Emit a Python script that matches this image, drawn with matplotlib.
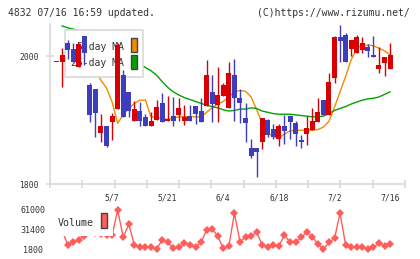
import matplotlib
matplotlib.use('Agg')
import matplotlib.pyplot as plt
import numpy as np
from matplotlib.patches import Rectangle
from matplotlib.transforms import Affine2D

# ---------------- data ----------------
open_ = [1990, 1990, 2021, 2011, 1983, 2031, 1955, 1948, 1879, 1891,
         1897, 1917, 1970, 1944, 1899, 1914, 1905, 1891, 1900, 1926,
         1898, 1906, 1908, 1898, 1906, 1922, 1914, 1922, 1943, 1924,
         1938, 1919, 1970, 1934, 1903, 1856, 1856, 1865, 1900, 1886,
         1871, 1891, 1906, 1896, 1868, 1878, 1884, 1897, 1931, 1908,
         1966, 2029, 2033, 2011, 2005, 2009, 2014, 2002, 1980, 1989,
         1980]
close = [1990, 2002, 2009, 1991, 2019, 2004, 1908, 1911, 1891, 1859,
         1906, 2017, 1905, 1914, 1917, 1898, 1890, 1898, 1921, 1897,
         1901, 1898, 1918, 1905, 1898, 1910, 1897, 1970, 1925, 1939,
         1955, 1973, 1934, 1926, 1895, 1844, 1850, 1903, 1877, 1874,
         1891, 1883, 1897, 1878, 1865, 1887, 1898, 1913, 1908, 1960,
         2029, 2024, 1990, 2025, 2029, 2021, 2008, 1999, 1986, 1998,
         2002]
high = [1990, 2012, 2025, 2021, 2021, 2031, 1958, 1948, 1910, 1891,
        1911, 2021, 1978, 1944, 1929, 1928, 1910, 1912, 1932, 1942,
        1937, 1936, 1935, 1923, 1923, 1922, 1934, 1994, 1970, 1983,
        1958, 1990, 1995, 1948, 1926, 1870, 1856, 1903, 1901, 1894,
        1894, 1908, 1906, 1898, 1877, 1906, 1918, 1934, 1931, 1974,
        2031, 2048, 2036, 2025, 2033, 2029, 2019, 2031, 2014, 1998,
        2021]
low = [1990, 1952, 1995, 1991, 1983, 1986, 1897, 1874, 1865, 1858,
       1869, 1917, 1905, 1905, 1899, 1890, 1890, 1890, 1900, 1897,
       1898, 1890, 1898, 1892, 1898, 1894, 1897, 1922, 1897, 1897,
       1938, 1919, 1898, 1895, 1865, 1840, 1811, 1855, 1873, 1871,
       1860, 1862, 1870, 1859, 1857, 1861, 1884, 1897, 1908, 1908,
       1958, 1991, 1990, 2000, 2005, 2005, 1999, 1999, 1974, 1969,
       1980]
ma5 = [np.nan, np.nan, np.nan, np.nan, 2005, 2005, 1995, 1978, 1962, 1950,
       1928, 1895, 1908, 1918, 1926, 1931, 1931, 1905, 1904, 1902,
       1901, 1903, 1905, 1905, 1905, 1905, 1905, 1912, 1919, 1925,
       1929, 1936, 1944, 1946, 1945, 1936, 1916, 1895, 1880, 1874,
       1872, 1878, 1883, 1884, 1884, 1884, 1884, 1885, 1889, 1898,
       1920, 1944, 1968, 1994, 2012, 2017, 2017, 2016, 2012, 2008,
       2002]
ma25 = [np.nan, 2047, 2044, 2042, 2040, 2037, 2033, 2028, 2023, 2018,
        2012, 2006, 2000, 1995, 1989, 1987, 1982, 1977, 1970, 1960,
        1951, 1944, 1939, 1935, 1932, 1929, 1926, 1923, 1921, 1919,
        1916, 1914, 1915, 1917, 1917, 1919, 1918, 1914, 1912, 1910,
        1909, 1909, 1909, 1908, 1907, 1906, 1905, 1905, 1906, 1910,
        1915, 1918, 1921, 1925, 1928, 1931, 1933, 1934, 1936, 1940,
        1944]
volume = [32000, 30000, 8200, 12200, 15600, 22000, 30000, 26000, 24000, 22500,
          22500, 60000, 19600, 38800, 8200, 4800, 4800, 4800, 1800, 15600,
          12200, 3300, 4800, 10700, 8200, 4800, 12200, 30400, 31800, 21500,
          3300, 6700, 55000, 13100, 19600, 21500, 27000, 8200, 5600, 8200,
          6700, 23000, 12200, 12200, 19600, 27000, 20500, 9600, 1800, 12200,
          18000, 55000, 8200, 5600, 4800, 4800, 1800, 4800, 10700, 6700,
          9600]
date_labels = ['5/7', '5/21', '6/4', '6/18', '7/2', '7/16']
date_index = [10, 20, 30, 40, 50, 60]
price_ticks = [1800, 2000]
vol_ticks = [1800, 31400, 61000]

# ---------------- style ----------------
RED = '#d80000'
BLUE = '#3d3dbd'
ORANGE = '#f28a00'
GREEN = '#00a400'
VOLC = '#ff5c5c'
GRID = '#d9d9d9'
TXT = '#333333'
MONO = 'DejaVu Sans Mono'

W, H = 420, 259
fig = plt.figure(figsize=(W / 100, H / 100), dpi=100)
px = Affine2D().scale(1 / W, -1 / H).translate(0, 1) + fig.transFigure


def rect(l, t, r, b):
    return [l / W, 1 - b / H, (r - l) / W, (b - t) / H]


ax = fig.add_axes(rect(50, 24, 405, 184))
vax = fig.add_axes(rect(50, 205, 405, 252))

n = len(open_)
x = np.arange(n)
xlim = (-1.17, 62.68)

# ---------------- candles ----------------
o = np.array(open_, float)
c = np.array(close, float)
colors = [RED if cc >= oo else BLUE for oo, cc in zip(o, c)]
ax.vlines(x, low, high, colors=colors, linewidth=1.0, zorder=3)
bottoms = np.minimum(o, c)
heights = np.maximum(np.abs(c - o), 1.6)
ax.bar(x, heights, bottom=bottoms, width=0.9, color=colors, linewidth=0, zorder=3.1)

ax.plot(x, ma5, color=ORANGE, lw=1.0, zorder=2)
ax.plot(x, ma25, color=GREEN, lw=1.0, zorder=2)

ax.set_xlim(*xlim)
ax.set_ylim(1800, 2050)
for s in ['top', 'right']:
    ax.spines[s].set_visible(False)
for s in ['left', 'bottom']:
    ax.spines[s].set_color(GRID)
    ax.spines[s].set_linewidth(1.2)
ax.set_yticks(price_ticks)
ax.set_yticklabels([str(v) for v in price_ticks], fontsize=5.8, family=MONO, color=TXT)
ax.tick_params(axis='y', direction='inout', length=5.8, width=1.2, color=GRID, pad=5)
ax.set_xticks(date_index)
ax.set_xticklabels(date_labels, fontsize=5.8, family=MONO, color=TXT)
ax.tick_params(axis='x', which='major', length=0, pad=7)
minor = [xlim[0] + (xlim[1] - xlim[0]) * i / 11 for i in range(12)]
ax.set_xticks(minor, minor=True)
ax.tick_params(axis='x', which='minor', direction='inout', length=5.8, width=1.2, color=GRID)

# legend (drawn over MA lines, under candles)
ax.add_patch(Rectangle((65, 30), 78, 47, transform=px, fc='white', ec=GRID, lw=1.2,
                       zorder=2.5, clip_on=False))
ax.text(124, 46.5, '5-day MA', transform=px, ha='right', va='center', fontsize=7,
        family=MONO, color=TXT, zorder=2.6)
ax.text(124, 63, '25-day MA', transform=px, ha='right', va='center', fontsize=7,
        family=MONO, color=TXT, zorder=2.6)
ax.add_patch(Rectangle((131, 38), 6, 14, transform=px, fc=ORANGE, ec='#444444', lw=1.0,
                       zorder=2.6, clip_on=False))
ax.add_patch(Rectangle((131, 55), 6, 14, transform=px, fc=GREEN, ec='#444444', lw=1.0,
                       zorder=2.6, clip_on=False))

# ---------------- volume ----------------
vax.plot(x, volume, color=VOLC, lw=1.0, marker='D', markersize=4.2, markeredgewidth=0,
         zorder=3)
vax.set_xlim(*xlim)
vax.set_ylim(-2196, 67364)
for s in vax.spines.values():
    s.set_visible(False)
vax.set_xticks([])
vax.set_yticks(vol_ticks)
vax.set_yticklabels([str(v) for v in vol_ticks], fontsize=6, family=MONO, color=TXT,
                    ha='center')
vax.tick_params(axis='y', length=0, pad=12.2)

vax.add_patch(Rectangle((51, 203), 62, 33, transform=px, fc='white', ec='none',
                        zorder=5, clip_on=False))
vax.text(58, 222.5, 'Volume', transform=px, ha='left', va='center', fontsize=7.2,
         family=MONO, color=TXT, zorder=6)
vax.add_patch(Rectangle((101, 213), 6, 15, transform=px, fc=VOLC, ec='#444444', lw=1.0,
                        zorder=6, clip_on=False))

# ---------------- header ----------------
fig.text(8, 12.5, '4832 07/16 16:59 updated.', transform=px, ha='left', va='center',
         fontsize=7.0, family=MONO, color=TXT)
fig.text(410, 12.5, '(C)https://www.rizumu.net/', transform=px, ha='right', va='center',
         fontsize=7.0, family=MONO, color=TXT)

fig.savefig('out.png', dpi=100, facecolor='white')
